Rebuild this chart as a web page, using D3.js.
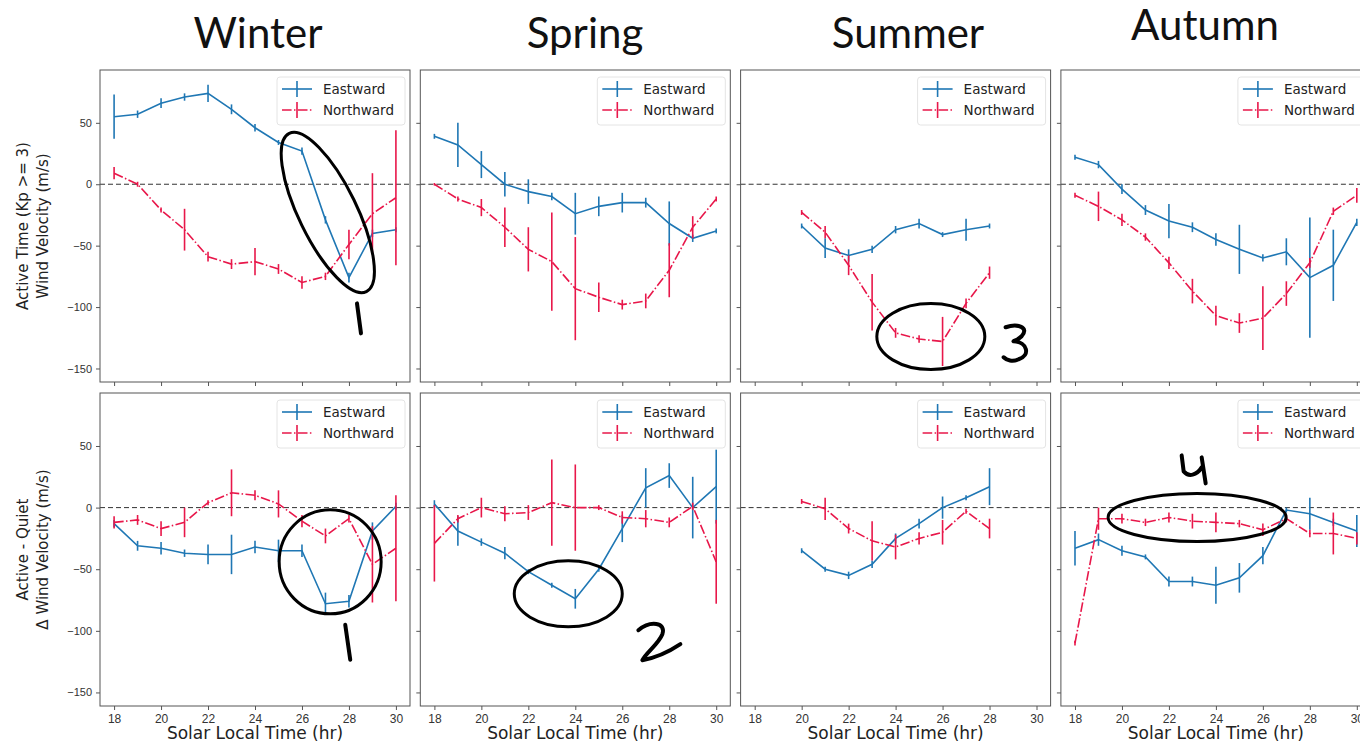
<!DOCTYPE html>
<html>
<head>
<meta charset="utf-8">
<script src="https://cdn.jsdelivr.net/npm/d3@7"></script>
<style>
  body { margin: 0; background: #fff; }
  svg { display: block; }
</style>
</head>
<body>
<div id="viz"></div>
<script>
// ---- data ----
const seasons = ['Winter', 'Spring', 'Summer', 'Autumn'];
const hoursFull = [18, 19, 20, 21, 22, 23, 24, 25, 26, 27, 28, 29, 30];
const hoursSummer = [20, 21, 22, 23, 24, 25, 26, 27, 28];
const xTicks = [18, 20, 22, 24, 26, 28, 30];
const yTicks = [50, 0, -50, -100, -150];
const rowLabels = [['Active Time (Kp >= 3)', 'Wind Velocity (m/s)'], ['Active - Quiet', 'Δ Wind Velocity (m/s)']];
const seriesNames = ['Eastward', 'Northward'];

// top row: active time
const winterActiveEast = [55, 57, 66, 71, 74, 61, 46, 34, 27, -29, -76, -40, -37];
const winterActiveEastErr = [18, 3, 4, 3, 7, 4, 3, 2, 3, 3, 4, 3, 2];
const winterActiveNorth = [9, 0, -21, -37, -59, -65, -63, -69, -80, -75, -49, -24, -11];
const winterActiveNorthErr = [5, 2, 2, 17, 4, 4, 11, 4, 5, 3, 12, 33, 55];

const springActiveEast = [39, 32, 16, 0, -6, -10, -24, -18, -15, -15, -32, -44, -38];
const springActiveEastErr = [2, 18, 11, 10, 10, 3, 17, 8, 8, 4, 18, 3, 2];
const springActiveNorth = [0, -12, -19, -35, -53, -63, -85, -92, -98, -95, -70, -35, -12];
const springActiveNorthErr = [1, 2, 7, 16, 18, 40, 42, 12, 4, 6, 22, 9, 2];

const summerActiveEast = [-34, -52, -58, -53, -37, -32, -41, -37, -34];
const summerActiveEastErr = [2, 8, 5, 3, 3, 4, 2, 9, 2];
const summerActiveNorth = [-23, -39, -66, -96, -121, -126, -128, -97, -72];
const summerActiveNorthErr = [2, 5, 8, 23, 4, 3, 20, 4, 5];

const autumnActiveEast = [22, 16, -4, -21, -30, -35, -45, -53, -60, -55, -76, -66, -31];
const autumnActiveEastErr = [2, 3, 4, 4, 14, 4, 5, 20, 3, 11, 49, 29, 3];
const autumnActiveNorth = [-9, -18, -29, -43, -64, -87, -107, -113, -109, -89, -64, -22, -9];
const autumnActiveNorthErr = [2, 12, 5, 3, 5, 10, 8, 8, 26, 10, 4, 3, 6];

// bottom row: active - quiet
const winterDiffEast = [-13, -31, -33, -37, -38, -38, -32, -35, -35, -78, -76, -19, 1];
const winterDiffEastErr = [3, 4, 5, 3, 8, 16, 5, 9, 5, 9, 5, 7, 3];
const winterDiffNorth = [-12, -10, -17, -12, 4, 12, 10, 3, -11, -23, -9, -46, -33];
const winterDiffNorthErr = [5, 4, 6, 12, 2, 19, 4, 11, 5, 6, 3, 31, 43];

const springDiffEast = [3, -19, -28, -37, -52, -63, -74, -50, -17, 16, 26, 0, 17];
const springDiffEastErr = [3, 12, 3, 5, 2, 2, 8, 2, 11, 16, 10, 25, 30];
const springDiffNorth = [-29, -9, 0, -5, -4, 4, 0, 0, -8, -9, -12, 1, -44];
const springDiffNorthErr = [31, 3, 8, 6, 6, 35, 35, 2, 5, 7, 4, 3, 34];

const summerDiffEast = [-35, -50, -55, -46, -25, -13, 0, 8, 17];
const summerDiffEastErr = [2, 2, 3, 3, 4, 4, 9, 2, 15];
const summerDiffNorth = [5, -1, -17, -27, -32, -25, -20, -3, -17];
const summerDiffNorthErr = [2, 9, 4, 16, 10, 5, 10, 2, 8];

const autumnDiffEast = [-33, -26, -35, -40, -60, -60, -63, -57, -39, -2, -5, -12, -19];
const autumnDiffEastErr = [14, 5, 4, 2, 4, 4, 15, 12, 7, 2, 13, 3, 13];
const autumnDiffNorth = [-110, -9, -9, -12, -8, -11, -12, -13, -18, -9, -21, -21, -25];
const autumnDiffNorthErr = [2, 9, 4, 3, 4, 6, 8, 3, 5, 3, 3, 17, 5];

// hand-drawn annotations: centre in data units, radii in px
const ellipses = [
    { row: 0, col: 0, hr: 27.1, v: -23, rx: 88, ry: 29, rot: 64 },
    { row: 1, col: 0, hr: 27.2, v: -44, rx: 51, ry: 52, rot: 0 },
    { row: 1, col: 1, hr: 23.7, v: -70, rx: 54, ry: 33, rot: 0 },
    { row: 0, col: 2, hr: 25.5, v: -124, rx: 54, ry: 33, rot: 0 },
    { row: 1, col: 3, hr: 23.2, v: -8, rx: 89, ry: 24, rot: 0 }
];
const digits = [
    { row: 0, col: 0, hr: 28.3, v: -97, d: 'M1,0 L5,30' },
    { row: 1, col: 0, hr: 27.8, v: -95, d: 'M1,0 L6,35' },
    { row: 1, col: 1, hr: 26.6, v: -93, d: 'M2,8 C14,-2 30,0 26,12 C22,22 10,30 6,38 C18,36 32,30 44,22' },
    { row: 0, col: 2, hr: 28.6, v: -114, d: 'M2,3 C14,-1 26,3 18,12 C14,16 9,17 10,17 C24,18 27,31 15,35 C9,38 3,36 0,33' },
    { row: 1, col: 3, hr: 22.5, v: 44, d: 'M1,2 L3,18 C8,24 16,22 21,14 M21,4 L25,30' }
];

// ---- layout ----
const svgW = 1360, svgH = 745;
const panelW = 310;
const panelLeft = 100, panelStep = 320.3;
const rowTop = [70, 393];
const rowH = [312, 313];
const titleX = [258, 585, 908, 1205];
const titleY = [48, 48, 48, 40];

const blue = '#1f77b4';
const red = '#e8174a';
const axisCol = '#555';

const panels = [
    [
        { hours: hoursFull, east: winterActiveEast, eastErr: winterActiveEastErr, north: winterActiveNorth, northErr: winterActiveNorthErr },
        { hours: hoursFull, east: springActiveEast, eastErr: springActiveEastErr, north: springActiveNorth, northErr: springActiveNorthErr },
        { hours: hoursSummer, east: summerActiveEast, eastErr: summerActiveEastErr, north: summerActiveNorth, northErr: summerActiveNorthErr },
        { hours: hoursFull, east: autumnActiveEast, eastErr: autumnActiveEastErr, north: autumnActiveNorth, northErr: autumnActiveNorthErr }
    ],
    [
        { hours: hoursFull, east: winterDiffEast, eastErr: winterDiffEastErr, north: winterDiffNorth, northErr: winterDiffNorthErr },
        { hours: hoursFull, east: springDiffEast, eastErr: springDiffEastErr, north: springDiffNorth, northErr: springDiffNorthErr },
        { hours: hoursSummer, east: summerDiffEast, eastErr: summerDiffEastErr, north: summerDiffNorth, northErr: summerDiffNorthErr },
        { hours: hoursFull, east: autumnDiffEast, eastErr: autumnDiffEastErr, north: autumnDiffNorth, northErr: autumnDiffNorthErr }
    ]
];

const svg = d3.select('#viz').append('svg')
    .attr('width', svgW)
    .attr('height', svgH)
    .style('font-family', 'DejaVu Sans, sans-serif');

// season titles
svg.selectAll('text.title').data(seasons)
    .enter().append('text')
        .attr('class', 'title')
        .attr('x', (d, i) => titleX[i])
        .attr('y', (d, i) => titleY[i])
        .attr('text-anchor', 'middle')
        .style('font-family', 'Lato, "Open Sans", sans-serif')
        .style('font-size', '42px')
        .style('fill', '#111')
        .text(d => d);

const dashDot = '9.6,2.4,1.5,2.4';

function drawSeries(g, x, y, hours, vals, errs, colour, dash) {
    const pts = hours.map((h, i) => ({ h: h, v: vals[i], e: errs[i] }));
    const line = d3.line().x(d => x(d.h)).y(d => y(d.v));
    g.append('path')
        .datum(pts)
        .attr('d', line)
        .attr('fill', 'none')
        .attr('stroke', colour)
        .attr('stroke-width', 1.6)
        .attr('stroke-dasharray', dash);
    g.selectAll(null).data(pts)
        .enter().append('line')
            .attr('x1', d => x(d.h))
            .attr('x2', d => x(d.h))
            .attr('y1', d => y(d.v - d.e))
            .attr('y2', d => y(d.v + d.e))
            .attr('stroke', colour)
            .attr('stroke-width', 1.6);
}

panels.forEach((rowPanels, r) => {
    rowPanels.forEach((p, c) => {
        const left = panelLeft + c * panelStep;
        const top = rowTop[r];
        const x = d3.scaleLinear().domain([17.4, 30.6]).range([0, panelW]);
        const y = d3.scaleLinear().domain([-161, 93]).range([rowH[r], 0]);

        const g = svg.append('g')
            .attr('transform', 'translate(' + left + ',' + top + ')');

        // axes
        const xAxis = d3.axisBottom(x).tickValues(xTicks).tickSize(4).tickPadding(4);
        if (r === 0) xAxis.tickFormat('');
        const yAxis = d3.axisLeft(y).tickValues(yTicks).tickSize(4).tickPadding(4)
            .tickFormat(d => d < 0 ? '\u2212' + Math.abs(d) : d);
        if (c > 0) yAxis.tickFormat('');

        const xg = g.append('g')
            .attr('transform', 'translate(0,' + rowH[r] + ')')
            .call(xAxis);
        const yg = g.append('g').call(yAxis);
        [xg, yg].forEach(a => {
            a.select('.domain').remove();
            a.selectAll('line').attr('stroke', axisCol);
            a.selectAll('text').style('font-size', '11px').style('fill', '#333');
        });
        xg.selectAll('text').style('font-size', '12px');

        // zero reference
        g.append('line')
            .attr('x1', 0).attr('x2', panelW)
            .attr('y1', y(0)).attr('y2', y(0))
            .attr('stroke', '#333')
            .attr('stroke-width', 1)
            .attr('stroke-dasharray', '5,3');

        drawSeries(g, x, y, p.hours, p.east, p.eastErr, blue, null);
        drawSeries(g, x, y, p.hours, p.north, p.northErr, red, dashDot);

        // frame
        g.append('rect')
            .attr('width', panelW).attr('height', rowH[r])
            .attr('fill', 'none')
            .attr('stroke', axisCol)
            .attr('stroke-width', 1);

        // legend
        const lg = g.append('g')
            .attr('transform', 'translate(' + (panelW - 133) + ',7)');
        lg.append('rect')
            .attr('width', 128).attr('height', 48)
            .attr('rx', 3)
            .attr('fill', '#fff').attr('fill-opacity', 0.8)
            .attr('stroke', '#e4e4e4');
        seriesNames.forEach((name, k) => {
            const ly = 12 + k * 21;
            const col = k === 0 ? blue : red;
            lg.append('line')
                .attr('x1', 5).attr('x2', 35)
                .attr('y1', ly).attr('y2', ly)
                .attr('stroke', col).attr('stroke-width', 1.6)
                .attr('stroke-dasharray', k === 0 ? null : dashDot);
            lg.append('line')
                .attr('x1', 20).attr('x2', 20)
                .attr('y1', ly - 8).attr('y2', ly + 8)
                .attr('stroke', col).attr('stroke-width', 1.6);
            lg.append('text')
                .attr('x', 46).attr('y', ly + 5)
                .style('font-size', '13.5px')
                .style('fill', '#222')
                .text(name);
        });

        if (r === 1) {
            g.append('text')
                .attr('x', panelW / 2)
                .attr('y', rowH[r] + 33)
                .attr('text-anchor', 'middle')
                .style('font-size', '17px')
                .style('fill', '#222')
                .text('Solar Local Time (hr)');
        }

        // annotations for this panel
        ellipses.filter(e => e.row === r && e.col === c).forEach(e => {
            g.append('ellipse')
                .attr('transform', 'translate(' + x(e.hr) + ',' + y(e.v) + ') rotate(' + e.rot + ')')
                .attr('rx', e.rx).attr('ry', e.ry)
                .attr('fill', 'none')
                .attr('stroke', '#000')
                .attr('stroke-width', 3);
        });
        digits.filter(e => e.row === r && e.col === c).forEach(e => {
            g.append('path')
                .attr('transform', 'translate(' + x(e.hr) + ',' + y(e.v) + ')')
                .attr('d', e.d)
                .attr('fill', 'none')
                .attr('stroke', '#000')
                .attr('stroke-width', 4)
                .attr('stroke-linecap', 'round')
                .attr('stroke-linejoin', 'round');
        });
    });

    // row y label
    const cy = rowTop[r] + rowH[r] / 2;
    rowLabels[r].forEach((txt, k) => {
        svg.append('text')
            .attr('transform', 'translate(' + (28 + k * 20) + ',' + cy + ') rotate(-90)')
            .attr('text-anchor', 'middle')
            .style('font-size', '15px')
            .style('fill', '#222')
            .text(txt);
    });
});
</script>
</body>
</html>
